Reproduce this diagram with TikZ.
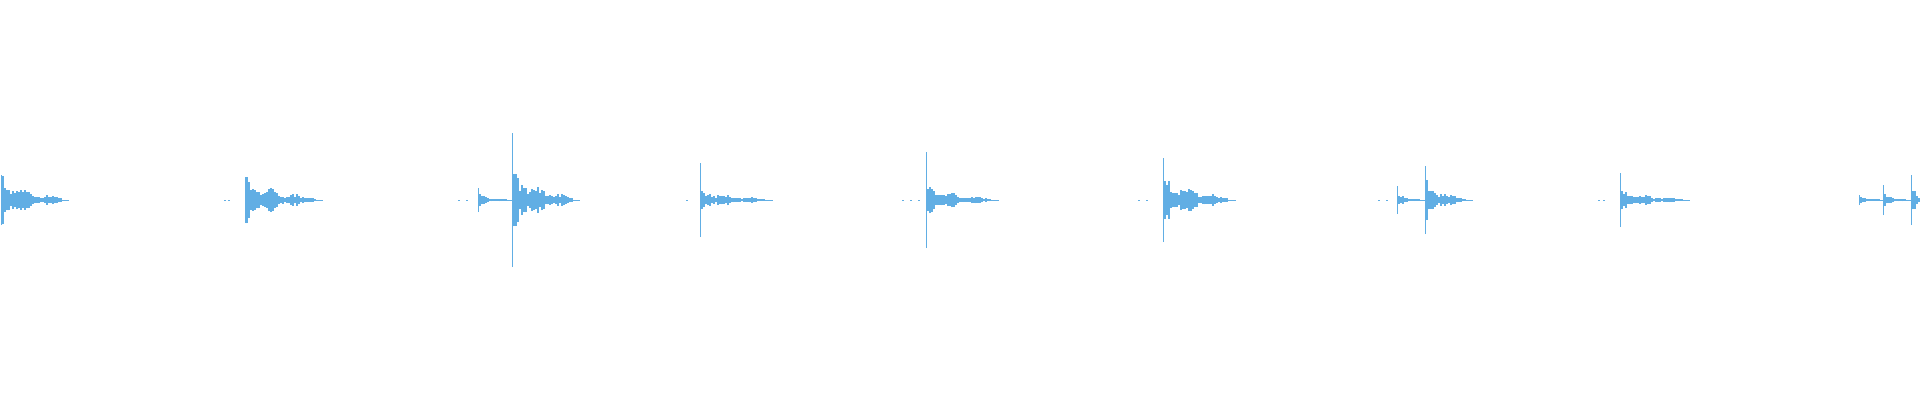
\documentclass[tikz,border=0pt]{standalone}
\usepackage{tikz}

\definecolor{wave}{RGB}{97,174,228}

% one burst: start, spike height, body height, length
\newcommand{\burst}[4]{%
    \draw[wave, line width=1pt] (#1, -#2) -- (#1, #2);
    \draw[wave, line width=0.8pt] (#1, 0) -- (#1+#4+8, 0);
    \foreach \i in {2,4,...,#4} {
        \pgfmathsetmacro{\amp}{max(0.6, 1.6*#3*exp(-\i/(#4/2))*(0.45+0.55*rnd)*(0.75+0.25*cos(\i*14)))}
        \draw[wave, line width=2pt] (#1+\i, -\amp) -- (#1+\i, \amp);
    }
}

\begin{document}
\begin{tikzpicture}[x=1pt, y=1pt]
    \useasboundingbox (0, -200) rectangle (1920, 200);
    \pgfmathsetseed{7}

    % bursts
    \burst{1}{25}{18}{60}
    \burst{245}{23}{16}{70}
    \burst{478}{12}{5}{28}
    \burst{512}{67}{24}{60}
    \burst{700}{37}{9}{65}
    \burst{926}{48}{12}{65}
    \burst{1163}{42}{19}{65}
    \burst{1397}{14}{5}{22}
    \burst{1425}{34}{14}{40}
    \burst{1620}{27}{8}{62}
    \burst{1859}{5}{3}{20}
    \burst{1883}{15}{7}{22}
    \burst{1911}{25}{18}{8}

    % stray dots
    \foreach \x in {224, 228, 458, 466, 686, 902, 910, 918, 1138, 1146, 1378, 1386, 1598, 1603} {
        \fill[wave] (\x, -0.5) rectangle (\x+2, 0.5);
    }
\end{tikzpicture}
\end{document}
